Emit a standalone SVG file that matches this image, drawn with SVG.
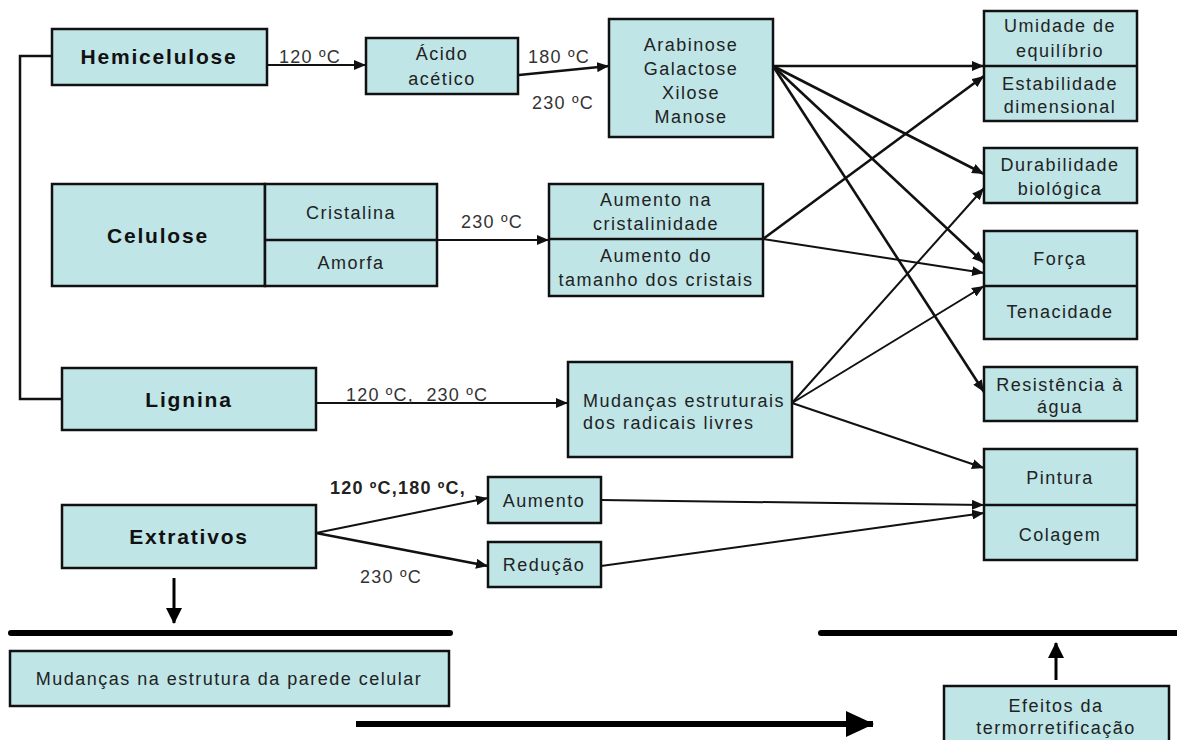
<svg xmlns="http://www.w3.org/2000/svg" width="1177" height="740" viewBox="0 0 1177 740">
<defs>
<style>
.box{fill:#bfe5e7;stroke:#111;stroke-width:2.5}
.div{stroke:#111;stroke-width:2.5;fill:none}
.t{font-family:"Liberation Sans",Arial,sans-serif;font-size:18px;letter-spacing:1.5px;fill:#222;text-anchor:middle}
.b{font-family:"Liberation Sans",Arial,sans-serif;font-size:21px;font-weight:bold;letter-spacing:1.8px;fill:#111;text-anchor:middle}
.l{font-family:"Liberation Sans",Arial,sans-serif;font-size:18px;letter-spacing:1.2px;fill:#333;text-anchor:middle}
.c{stroke:#111;stroke-width:2;fill:none;marker-end:url(#ah)}
.ck{stroke:#111;stroke-width:2.6;fill:none;marker-end:url(#ah)}
.thick{stroke:#000;stroke-width:6;stroke-linecap:round;fill:none}
</style>
<marker id="ah" markerUnits="userSpaceOnUse" markerWidth="12" markerHeight="10" refX="12" refY="5" orient="auto">
<path d="M0,0 L12,5 L0,10 Z" fill="#111"/>
</marker>
<marker id="ah2" markerUnits="userSpaceOnUse" markerWidth="16" markerHeight="16" refX="15" refY="8" orient="auto">
<path d="M0,0 L16,8 L0,16 Z" fill="#000"/>
</marker>
<marker id="ah3" markerUnits="userSpaceOnUse" markerWidth="28" markerHeight="26" refX="27" refY="13" orient="auto">
<path d="M0,0 L28,13 L0,26 Z" fill="#000"/>
</marker>
</defs>
<rect width="1177" height="740" fill="#fff"/>

<g id="connectors">
<path d="M52,56 H20 V399 H62" stroke="#111" stroke-width="2.5" fill="none"/>
<line class="c" x1="267" y1="65" x2="366" y2="65"/>
<line class="ck" x1="519" y1="75" x2="609" y2="66"/>
<line class="c" x1="437" y1="240" x2="549" y2="240"/>
<line class="c" x1="316" y1="403" x2="568" y2="403"/>
<line class="c" x1="316" y1="533" x2="488" y2="498"/>
<line class="ck" x1="316" y1="533" x2="488" y2="566"/>
<line class="ck" x1="773" y1="66" x2="984" y2="66"/>
<line class="ck" x1="773" y1="66" x2="984" y2="174"/>
<line class="ck" x1="773" y1="66" x2="984" y2="263"/>
<line class="ck" x1="773" y1="66" x2="984" y2="392"/>
<line class="ck" x1="763" y1="239" x2="984" y2="76"/>
<line class="c" x1="763" y1="239" x2="984" y2="273"/>
<line class="c" x1="792" y1="403" x2="984" y2="188"/>
<line class="c" x1="792" y1="403" x2="984" y2="286"/>
<line class="c" x1="792" y1="403" x2="984" y2="468"/>
<line class="c" x1="601" y1="500" x2="984" y2="505"/>
<line class="c" x1="601" y1="566" x2="984" y2="513"/>
<line x1="174" y1="578" x2="174" y2="623" stroke="#000" stroke-width="3" marker-end="url(#ah2)"/>
<line x1="1056" y1="680" x2="1056" y2="643" stroke="#000" stroke-width="3" marker-end="url(#ah2)"/>
<line x1="356" y1="724" x2="873" y2="724" stroke="#000" stroke-width="6" marker-end="url(#ah3)"/>
<line class="thick" x1="11" y1="633" x2="450" y2="633"/>
<line class="thick" x1="821" y1="633" x2="1180" y2="633"/>
<text class="l" x="310" y="63">120 ºC</text>
<text class="l" x="559" y="63">180 ºC</text>
<text class="l" x="563" y="109">230 ºC</text>
<text class="l" x="492" y="228">230 ºC</text>
<text class="l" x="346" y="401" style="text-anchor:start" xml:space="preserve">120 ºC,  230 ºC</text>
<text class="l" x="398" y="494" style="font-weight:bold;fill:#222">120 ºC,180 ºC,</text>
<text class="l" x="391" y="583">230 ºC</text>
</g>

<g id="hemicelulose">
<rect class="box" x="52" y="29" width="215" height="56"/>
<text class="b" x="159" y="64">Hemicelulose</text>
</g>
<g id="acido">
<rect class="box" x="366" y="38" width="152" height="56"/>
<text class="t" x="442" y="60">Ácido</text>
<text class="t" x="442" y="85">acético</text>
</g>
<g id="acucares">
<rect class="box" x="609" y="19" width="164" height="118"/>
<text class="t" x="691" y="51">Arabinose</text>
<text class="t" x="691" y="75">Galactose</text>
<text class="t" x="691" y="99">Xilose</text>
<text class="t" x="691" y="123">Manose</text>
</g>
<g id="celulose">
<rect class="box" x="52" y="184" width="213" height="102"/>
<rect class="box" x="265" y="184" width="172" height="102"/>
<line class="div" x1="265" y1="240" x2="437" y2="240"/>
<text class="b" x="158" y="243">Celulose</text>
<text class="t" x="351" y="219">Cristalina</text>
<text class="t" x="351" y="269">Amorfa</text>
</g>
<g id="aumento-cristal">
<rect class="box" x="549" y="184" width="214" height="112"/>
<line class="div" x1="549" y1="239" x2="763" y2="239"/>
<text class="t" x="656" y="206">Aumento na</text>
<text class="t" x="656" y="230">cristalinidade</text>
<text class="t" x="656" y="262">Aumento do</text>
<text class="t" x="656" y="286">tamanho dos cristais</text>
</g>
<g id="lignina">
<rect class="box" x="62" y="368" width="254" height="62"/>
<text class="b" x="189" y="407">Lignina</text>
</g>
<g id="radicais">
<rect class="box" x="568" y="362" width="224" height="95"/>
<text class="t" x="583" y="407" style="text-anchor:start">Mudanças estruturais</text>
<text class="t" x="583" y="429" style="text-anchor:start">dos radicais livres</text>
</g>
<g id="extrativos">
<rect class="box" x="62" y="505" width="254" height="63"/>
<text class="b" x="189" y="544">Extrativos</text>
</g>
<g id="aumento">
<rect class="box" x="488" y="477" width="113" height="46"/>
<text class="t" x="544" y="507">Aumento</text>
</g>
<g id="reducao">
<rect class="box" x="488" y="542" width="113" height="45"/>
<text class="t" x="544" y="571">Redução</text>
</g>
<g id="umidade">
<rect class="box" x="984" y="11" width="153" height="110"/>
<line class="div" x1="984" y1="66" x2="1137" y2="66"/>
<text class="t" x="1060" y="32">Umidade de</text>
<text class="t" x="1060" y="57">equilíbrio</text>
<text class="t" x="1060" y="90">Estabilidade</text>
<text class="t" x="1060" y="113">dimensional</text>
</g>
<g id="durabilidade">
<rect class="box" x="984" y="148" width="153" height="55"/>
<text class="t" x="1060" y="171">Durabilidade</text>
<text class="t" x="1060" y="195">biológica</text>
</g>
<g id="forca">
<rect class="box" x="984" y="231" width="153" height="108"/>
<line class="div" x1="984" y1="286" x2="1137" y2="286"/>
<text class="t" x="1060" y="265">Força</text>
<text class="t" x="1060" y="318">Tenacidade</text>
</g>
<g id="resistencia">
<rect class="box" x="984" y="367" width="153" height="54"/>
<text class="t" x="1060" y="391">Resistência à</text>
<text class="t" x="1060" y="413">água</text>
</g>
<g id="pintura">
<rect class="box" x="984" y="449" width="153" height="111"/>
<line class="div" x1="984" y1="505" x2="1137" y2="505"/>
<text class="t" x="1060" y="484">Pintura</text>
<text class="t" x="1060" y="541">Colagem</text>
</g>
<g id="parede">
<rect class="box" x="10" y="651" width="439" height="55"/>
<text class="t" x="229" y="685">Mudanças na estrutura da parede celular</text>
</g>
<g id="efeitos">
<rect class="box" x="944" y="686" width="225" height="62"/>
<text class="t" x="1056" y="712">Efeitos da</text>
<text class="t" x="1056" y="734">termorretificação</text>
</g>
</svg>
